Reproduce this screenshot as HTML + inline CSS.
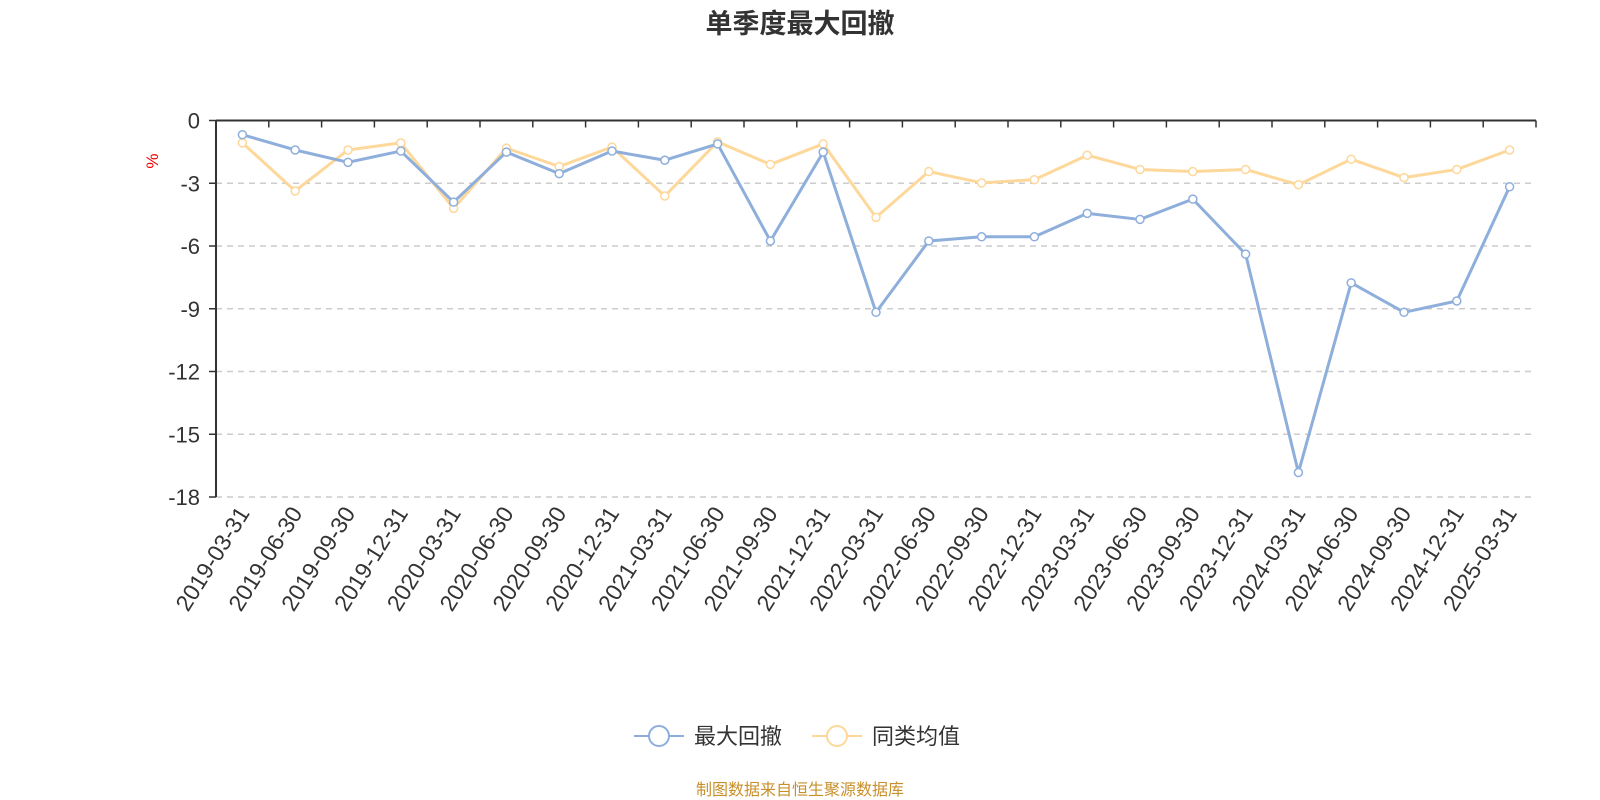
<!DOCTYPE html>
<html><head><meta charset="utf-8"><style>
html,body{margin:0;padding:0;background:#fff;width:1600px;height:800px;overflow:hidden}
svg text{font-family:"Liberation Sans","Noto Sans CJK SC",sans-serif}
</style></head><body>
<svg id="chart" width="1600" height="800" xmlns="http://www.w3.org/2000/svg">
<text x="800" y="33" text-anchor="middle" font-size="27" font-weight="bold" fill="#333">单季度最大回撤</text>
<text transform="translate(158,161) rotate(-90)" text-anchor="middle" font-size="17" fill="#e00">%</text>
<g id="grid"></g><g id="axes"></g><g id="series"></g>
<g>
<g>
<line x1="634" y1="736" x2="684" y2="736" stroke="#8eaedb" stroke-width="2"/>
<circle cx="659" cy="736" r="10" fill="#fff" stroke="#8eaedb" stroke-width="2"/>
<text x="694" y="744" font-size="22" fill="#333">最大回撤</text></g>
<g>
<line x1="812" y1="736" x2="862" y2="736" stroke="#fdd89a" stroke-width="2"/>
<circle cx="837" cy="736" r="10" fill="#fff" stroke="#fdd89a" stroke-width="2"/>
<text x="872" y="744" font-size="22" fill="#333">同类均值</text></g>
</g>
<text x="800" y="795" text-anchor="middle" font-size="16" fill="#c8902a">制图数据来自恒生聚源数据库</text>
</svg>
<script>
const categories=["2019-03-31","2019-06-30","2019-09-30","2019-12-31","2020-03-31","2020-06-30","2020-09-30","2020-12-31","2021-03-31","2021-06-30","2021-09-30","2021-12-31","2022-03-31","2022-06-30","2022-09-30","2022-12-31","2023-03-31","2023-06-30","2023-09-30","2023-12-31","2024-03-31","2024-06-30","2024-09-30","2024-12-31","2025-03-31"];
const maxDrawdown=[-0.68,-1.41,-2.0,-1.46,-3.9,-1.51,-2.54,-1.46,-1.9,-1.12,-5.76,-1.51,-9.17,-5.76,-5.56,-5.56,-4.44,-4.73,-3.76,-6.39,-16.83,-7.76,-9.17,-8.63,-3.17];
const peerAverage=[-1.07,-3.37,-1.41,-1.07,-4.2,-1.32,-2.2,-1.27,-3.61,-1.02,-2.1,-1.12,-4.63,-2.44,-2.98,-2.83,-1.66,-2.34,-2.44,-2.34,-3.07,-1.85,-2.73,-2.34,-1.41];
const yTicks=[0,-3,-6,-9,-12,-15,-18];
const NS="http://www.w3.org/2000/svg";
const L=216,R=1536,T=120.5,B=497,ymin=-18,ymax=0;
const band=(R-L)/categories.length;
const xs=i=>L+band*(i+0.5);
const ys=v=>T+(ymax-v)/(ymax-ymin)*(B-T);
function mk(tag,attrs,parent){const e=document.createElementNS(NS,tag);for(const k in attrs)e.setAttribute(k,attrs[k]);parent.appendChild(e);return e;}
const grid=document.getElementById('grid'),axes=document.getElementById('axes'),ser=document.getElementById('series');
yTicks.forEach(t=>{
 const y=ys(t);
 if(t!==0){const g=mk('line',{x1:L,x2:R,y1:y,y2:y,stroke:'#ccc','stroke-dasharray':'6,5','stroke-width':1.5},grid);
 
 }
 const tk=mk('line',{x1:L-7,x2:L,y1:y,y2:y,stroke:'#333','stroke-width':1.5},axes);
 
 
 const tx=mk('text',{x:L-16,y:y+8,'text-anchor':'end','font-size':22,fill:'#333'},axes);
 tx.textContent=t;
 
 
});
const ya=mk('line',{x1:L,x2:L,y1:T,y2:B,stroke:'#333','stroke-width':2},axes);


const xa=mk('line',{x1:L,x2:R,y1:ys(0),y2:ys(0),stroke:'#333','stroke-width':2},axes);


for(let i=0;i<=categories.length;i++){
 const x=L+band*i;
 const tk=mk('line',{x1:x,x2:x,y1:ys(0),y2:ys(0)+7,stroke:'#333','stroke-width':1.5},axes);
 
 
}
categories.forEach((c,i)=>{
 const x=xs(i)+8,y=B+16;
 const tx=mk('text',{transform:`translate(${x},${y}) rotate(-58)`,'text-anchor':'end','font-size':23,fill:'#333'},axes);
 tx.textContent=c;
 
 
});
function drawSeries(vals,color,name){
 const g=mk('g',{},ser);
 
 
 const p=mk('polyline',{points:vals.map((v,i)=>xs(i)+','+ys(v)).join(' '),fill:'none',stroke:color,'stroke-width':3,'stroke-linejoin':'round'},g);
 
 
 vals.forEach((v,i)=>{
  const c=mk('circle',{cx:xs(i),cy:ys(v),r:4,fill:'#fff',stroke:color,'stroke-width':1.5},g);
  
  
 });
}
drawSeries(peerAverage,'#fdd89a','peer-average-series');
drawSeries(maxDrawdown,'#8eaedb','max-drawdown-series');
</script>
</body></html>
